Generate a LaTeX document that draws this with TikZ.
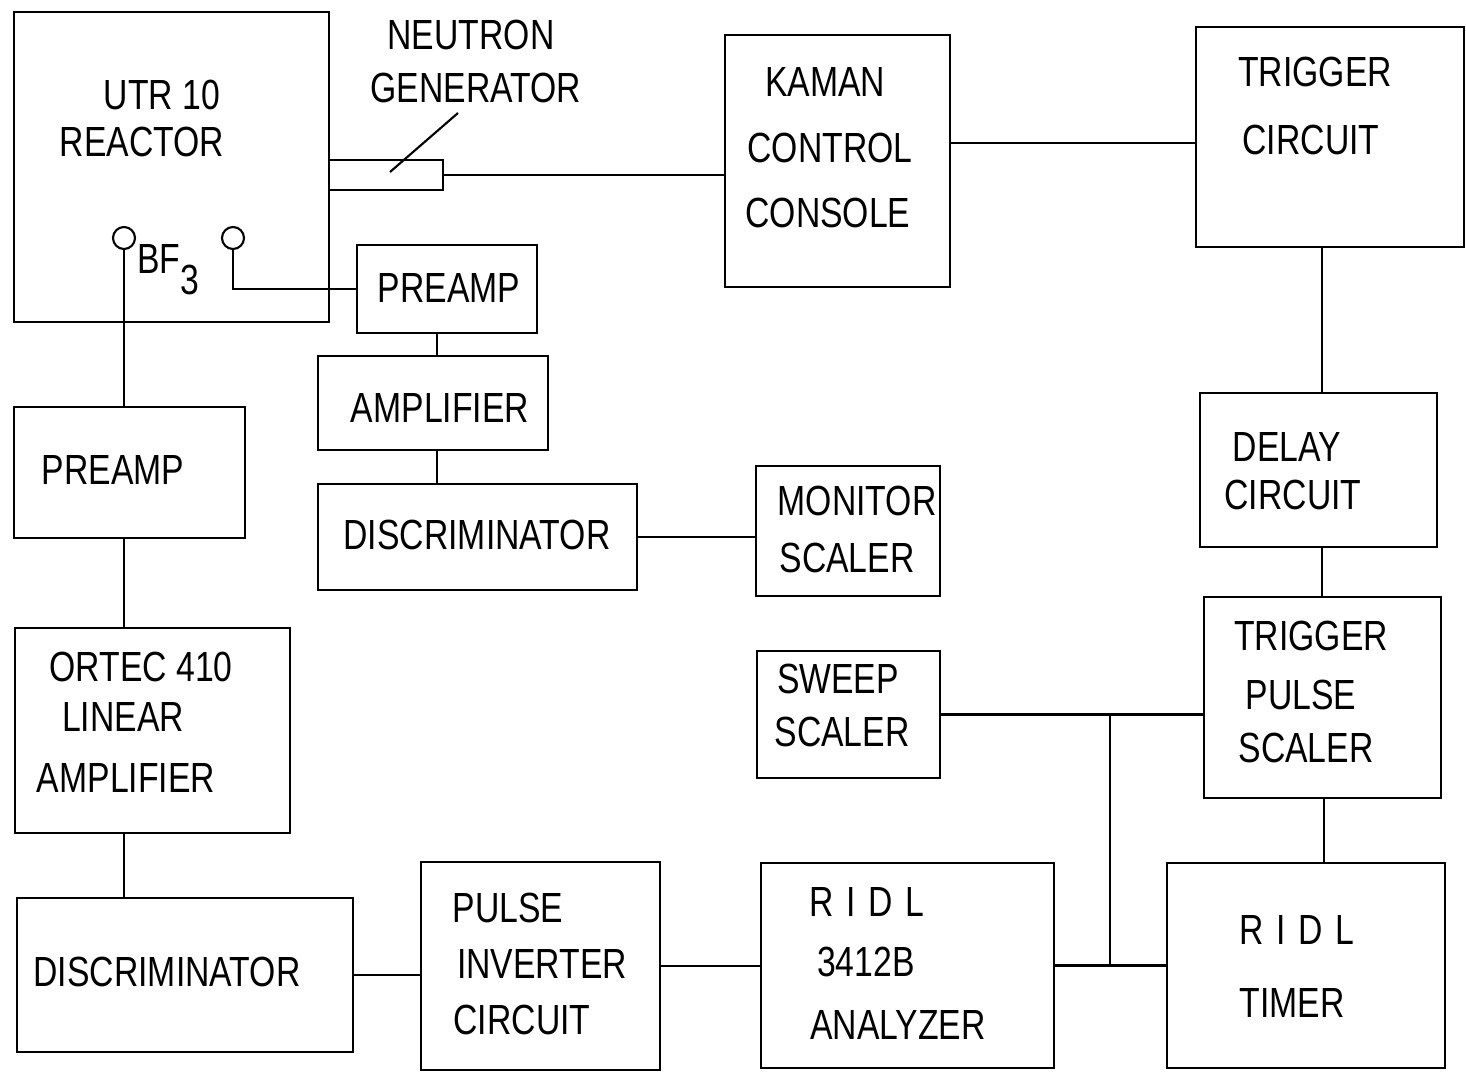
\documentclass[tikz,border=0pt]{standalone}
\usepackage{fontspec}
\setmainfont{Liberation Sans}[FakeStretch=0.8]
\usetikzlibrary{fit}
\tikzset{
  box/.style={draw, line width=1.3pt, inner sep=0pt, rectangle},
  lbl/.style={inner sep=0pt, font=\fontsize{24}{28}\selectfont},
  wire/.style={line width=1.2pt},
  det/.style={draw, line width=1.2pt, circle, minimum size=22*0.02cm, inner sep=0pt}
}
\newcommand{\mybox}[5]{\node[box, fit={(#2,#3) (#4,#5)}] (#1) {};}
\begin{document}
\begin{tikzpicture}[x=0.02cm, y=-0.02cm]
\useasboundingbox (0,0) rectangle (1466,1074);
% boxes
\mybox{reactor}{14}{12}{329}{322}
\mybox{ng}{329}{160}{443}{190}
\mybox{pa2}{357}{245}{537}{333}
\mybox{amp}{318}{356}{548}{450}
\mybox{disc2}{318}{484}{637}{590}
\mybox{mon}{756}{466}{940}{596}
\mybox{kaman}{725}{35}{950}{287}
\mybox{trig}{1196}{27}{1464}{247}
\mybox{delay}{1200}{393}{1437}{547}
\mybox{tps}{1204}{597}{1441}{798}
\mybox{timer}{1167}{863}{1445}{1068}
\mybox{sweep}{757}{651}{940}{778}
\mybox{ana}{761}{863}{1054}{1068}
\mybox{pinv}{421}{862}{660}{1070}
\mybox{disc1}{17}{898}{353}{1052}
\mybox{ortec}{15}{628}{290}{833}
\mybox{pa1}{14}{407}{245}{538}
% detectors
\node[det] (d1) at (124,238) {};
\node[det] (d2) at (233,238) {};
% helper coordinates
\coordinate (x437) at (437,0);
\coordinate (x1322) at (1322,0);
\coordinate (x1324) at (1324,0);
\coordinate (xj) at (1110,0);
\coordinate (y143) at (0,143);
\coordinate (lead1) at (390,172);
\coordinate (lead2) at (458,113);
% labels
\node[lbl] (t1) at (471,35) {NEUTRON};
\node[lbl] (t2) at (476,88) {GENERATOR};
\node[lbl] (t3) at (162,95) {UTR 10};
\node[lbl] (t4) at (142,142) {REACTOR};
\node[lbl, anchor=west] (t5) at (137,270) {BF\raisebox{-12pt}{3}};
\node[lbl] (t6) at (449,288) {PREAMP};
\node[lbl] (t7) at (440,408) {AMPLIFIER};
\node[lbl] (t8) at (477,535) {DISCRIMINATOR};
\node[lbl] (t9) at (857,501) {MONITOR};
\node[lbl] (t10) at (847,558) {SCALER};
\node[lbl] (t11) at (825,82) {KAMAN};
\node[lbl] (t12) at (830,148) {CONTROL};
\node[lbl] (t13) at (828,213) {CONSOLE};
\node[lbl] (t14) at (1315,72) {TRIGGER};
\node[lbl] (t15) at (1311,140) {CIRCUIT};
\node[lbl] (t16) at (1287,447) {DELAY};
\node[lbl] (t17) at (1293,495) {CIRCUIT};
\node[lbl] (t18) at (113,470) {PREAMP};
\node[lbl] (t19) at (1311,636) {TRIGGER};
\node[lbl] (t20) at (1301,695) {PULSE};
\node[lbl] (t21) at (1306,748) {SCALER};
\node[lbl] (t22) at (838,679) {SWEEP};
\node[lbl] (t23) at (842,732) {SCALER};
\node[lbl] (t24) at (141,667) {ORTEC 410};
\node[lbl] (t25) at (123,717) {LINEAR};
\node[lbl] (t26) at (126,778) {AMPLIFIER};
\node[lbl] (t27) at (167,972) {DISCRIMINATOR};
\node[lbl] (t28) at (508,908) {PULSE};
\node[lbl] (t29) at (542,964) {INVERTER};
\node[lbl] (t30) at (522,1020) {CIRCUIT};
\node[lbl] (t31) at (867,902) {\addfontfeatures{LetterSpace=30}RIDL};
\node[lbl] (t32) at (866,962) {3412B};
\node[lbl] (t33) at (898,1025) {ANALYZER};
\node[lbl] (t34) at (1297,930) {\addfontfeatures{LetterSpace=30}RIDL};
\node[lbl] (t35) at (1292,1003) {TIMER};
% connectors
\draw[wire] (lead1) -- (lead2);
\draw[wire] (ng.east) -- (ng.east -| kaman.west);
\draw[wire] (kaman.east |- y143) -- (trig.west |- y143);
\draw[wire] (d1.south) -- (d1.south |- pa1.north);
\draw[wire] (d1 |- pa1.south) -- (d1 |- ortec.north);
\draw[wire] (d1 |- ortec.south) -- (d1 |- disc1.north);
\draw[wire] (d2.south) |- (pa2.west);
\draw[wire] (x437 |- pa2.south) -- (x437 |- amp.north);
\draw[wire] (x437 |- amp.south) -- (x437 |- disc2.north);
\draw[wire] (disc2.east) -- (disc2.east -| mon.west);
\draw[wire] (x1322 |- trig.south) -- (x1322 |- delay.north);
\draw[wire] (x1322 |- delay.south) -- (x1322 |- tps.north);
\draw[wire] (x1324 |- tps.south) -- (x1324 |- timer.north);
\draw[wire] (sweep.east) -- (sweep.east -| tps.west);
\draw[wire] (xj |- sweep.east) -- (xj |- ana.east);
\draw[wire] (ana.east) -- (ana.east -| timer.west);
\draw[wire] (disc1.east) -- (disc1.east -| pinv.west);
\draw[wire] (pinv.east) -- (pinv.east -| ana.west);
\end{tikzpicture}
\end{document}
